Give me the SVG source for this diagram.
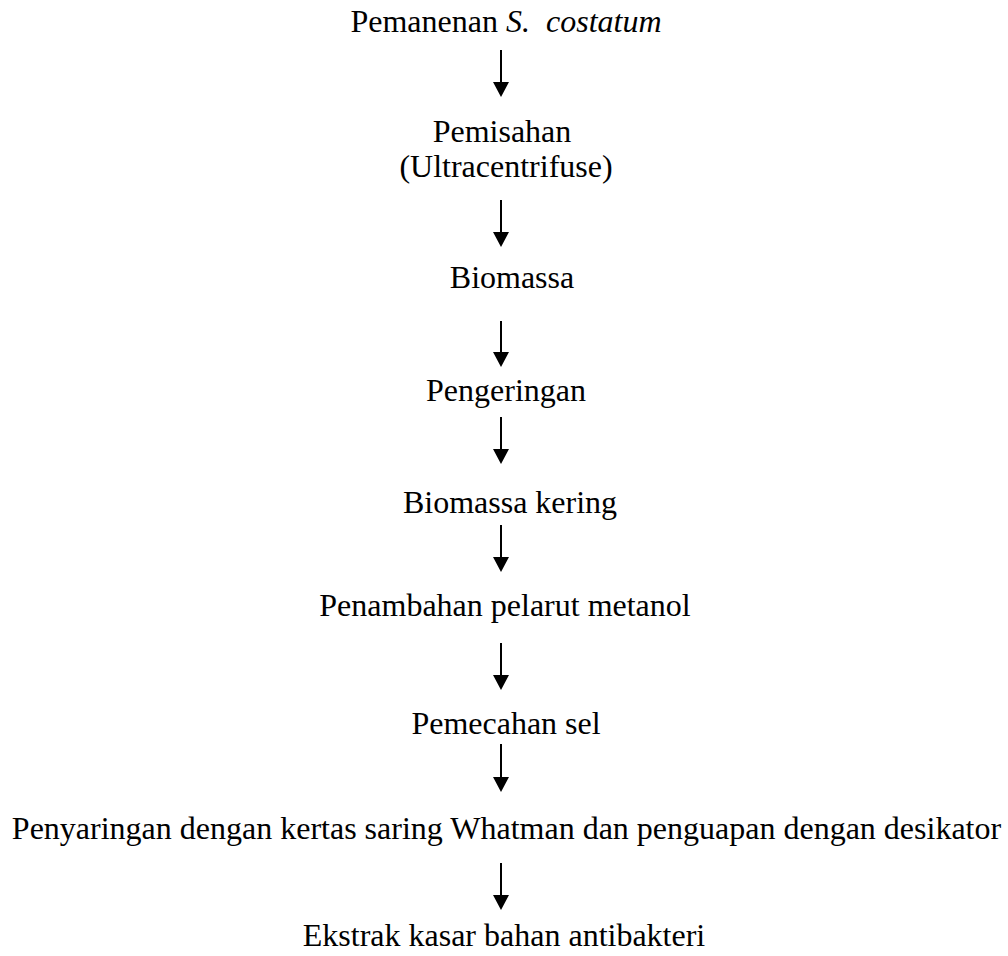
<svg xmlns="http://www.w3.org/2000/svg" width="1008" height="956" viewBox="0 0 1008 956">
<defs>
<style>
text{font-family:"Liberation Serif","Times New Roman",serif;font-size:32px;fill:#000;text-anchor:middle}
.it{font-style:italic}
.ln{stroke:#000;stroke-width:2;fill:none}
.hd{fill:#000}
</style>
</defs>
<rect width="1008" height="956" fill="#fff"/>
<g id="n1"><text xml:space="preserve" x="506" y="32">Pemanenan <tspan class="it">S.</tspan>  <tspan class="it">costatum</tspan></text></g>
<g id="n2"><text x="502" y="142">Pemisahan</text><text x="506" y="177">(Ultracentrifuse)</text></g>
<g id="n3"><text x="512" y="288">Biomassa</text></g>
<g id="n4"><text x="506" y="401">Pengeringan</text></g>
<g id="n5"><text x="510" y="513">Biomassa kering</text></g>
<g id="n6"><text x="505" y="616">Penambahan pelarut metanol</text></g>
<g id="n7"><text x="506" y="734">Pemecahan sel</text></g>
<g id="n8"><text x="506.5" y="839">Penyaringan dengan kertas saring Whatman dan penguapan dengan desikator</text></g>
<g id="n9"><text x="504" y="946">Ekstrak kasar bahan antibakteri</text></g>
<g id="connectors">
<line class="ln" x1="501" y1="50" x2="501" y2="84"/><polygon class="hd" points="493,82 509,82 501,97"/>
<line class="ln" x1="501" y1="200" x2="501" y2="234"/><polygon class="hd" points="493,232 509,232 501,247"/>
<line class="ln" x1="501" y1="321" x2="501" y2="354"/><polygon class="hd" points="493,352 509,352 501,367"/>
<line class="ln" x1="501" y1="417" x2="501" y2="451"/><polygon class="hd" points="493,449 509,449 501,464"/>
<line class="ln" x1="501" y1="525" x2="501" y2="559"/><polygon class="hd" points="493,557 509,557 501,572"/>
<line class="ln" x1="501" y1="643" x2="501" y2="677"/><polygon class="hd" points="493,675 509,675 501,690"/>
<line class="ln" x1="501" y1="744" x2="501" y2="779"/><polygon class="hd" points="493,777 509,777 501,792"/>
<line class="ln" x1="501" y1="863" x2="501" y2="897"/><polygon class="hd" points="493,895 509,895 501,910"/>
</g>
</svg>
